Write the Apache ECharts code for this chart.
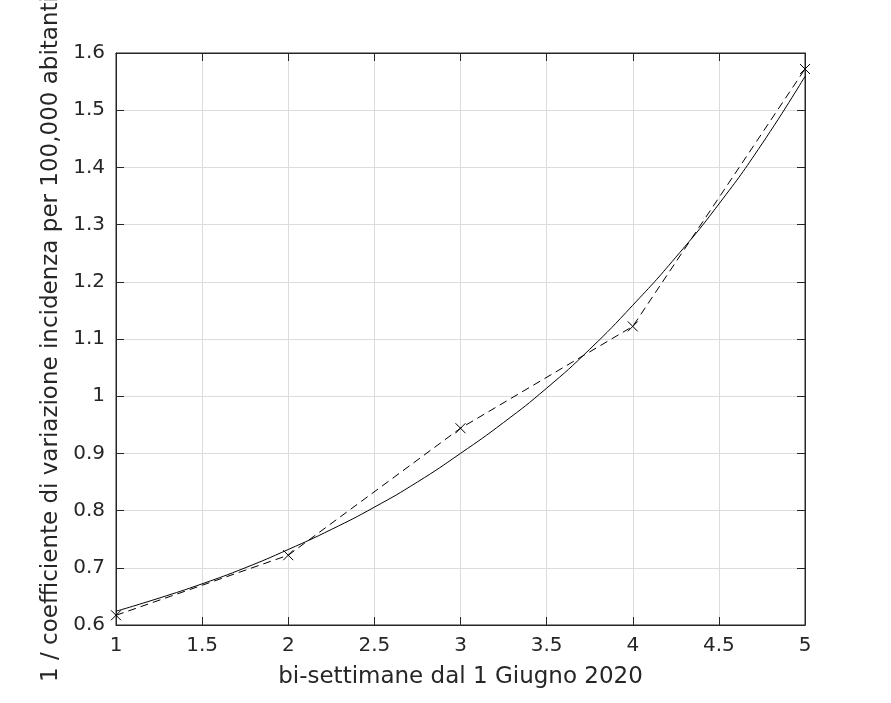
<!DOCTYPE html>
<html><head><meta charset="utf-8">
<script src="https://cdn.jsdelivr.net/npm/echarts@6/dist/echarts.min.js"></script>
<style>html,body{margin:0;padding:0;background:#fff}#c{width:891px;height:703px}</style>
</head><body><div id="c"></div>
<script>
// measured data (dashed with x markers)
const obsX = [1, 2, 3, 4, 5];
const obsY = [0.617, 0.722, 0.944, 1.122, 1.572];
// fitted curve (solid)
const fitX = [1, 1.25, 1.5, 1.75, 2, 2.25, 2.5, 2.75, 3, 3.25, 3.5, 3.75, 4, 4.25, 4.5, 4.75, 5];
const fitY = [0.624, 0.647, 0.672, 0.700, 0.732, 0.767, 0.806, 0.850, 0.900, 0.954, 1.014, 1.082, 1.159, 1.243, 1.336, 1.441, 1.559];
const xTicks = [1, 1.5, 2, 2.5, 3, 3.5, 4, 4.5, 5];
const yTicks = [0.6, 0.7, 0.8, 0.9, 1, 1.1, 1.2, 1.3, 1.4, 1.5, 1.6];
const xLabel = 'bi-settimane dal 1 Giugno 2020';
const yLabel = '1 / coefficiente di variazione incidenza per 100,000 abitanti';

const txt = '#262626';
const font = 'DejaVu Sans';
const chart = echarts.init(document.getElementById('c'));
const xBase = {type:'value', min:xTicks[0], max:xTicks[xTicks.length-1], interval:0.5};
const yBase = {type:'value', min:yTicks[0], max:yTicks[yTicks.length-1], interval:0.1};
chart.setOption({
  animation:false,
  backgroundColor:'#fff',
  grid:{left:116, right:86, top:53, bottom:78, containLabel:false, outerBoundsMode:'none',
    show:true, borderColor:txt, borderWidth:1, backgroundColor:'#fff'},
  xAxis:[
    Object.assign({}, xBase, {position:'bottom',
      name:xLabel, nameLocation:'middle', nameGap:41,
      nameTextStyle:{color:txt, fontSize:23, fontFamily:font},
      axisLine:{show:true, lineStyle:{color:txt}},
      axisTick:{show:true, inside:true, length:8, lineStyle:{color:txt}},
      axisLabel:{color:txt, fontSize:20, fontFamily:font, margin:11, formatter:v=>String(v)},
      splitLine:{show:true, lineStyle:{color:'#dcdcdc', width:1}}}),
    Object.assign({}, xBase, {position:'top',
      axisLine:{show:true, lineStyle:{color:txt}},
      axisTick:{show:true, inside:true, length:8, lineStyle:{color:txt}},
      axisLabel:{show:false}, splitLine:{show:false}})
  ],
  yAxis:[
    Object.assign({}, yBase, {position:'left',
      name:yLabel, nameLocation:'middle', nameGap:52,
      nameTextStyle:{color:txt, fontSize:23, fontFamily:font},
      axisLine:{show:true, lineStyle:{color:txt}},
      axisTick:{show:true, inside:true, length:8, lineStyle:{color:txt}},
      axisLabel:{color:txt, fontSize:20, fontFamily:font, margin:11, formatter:v=>String(Math.round(v*10)/10)},
      splitLine:{show:true, lineStyle:{color:'#dcdcdc', width:1}}}),
    Object.assign({}, yBase, {position:'right',
      axisLine:{show:true, lineStyle:{color:txt}},
      axisTick:{show:true, inside:true, length:8, lineStyle:{color:txt}},
      axisLabel:{show:false}, splitLine:{show:false}})
  ],
  series:[
    {type:'line', xAxisIndex:0, yAxisIndex:0, data:fitX.map((x,i)=>[x,fitY[i]]),
      smooth:true, showSymbol:false, symbol:'none',
      lineStyle:{color:'#000', width:1}},
    {type:'line', xAxisIndex:0, yAxisIndex:0, data:obsX.map((x,i)=>[x,obsY[i]]),
      symbol:'path://M0,0L10,10M10,0L0,10', symbolSize:10, showSymbol:true,
      itemStyle:{color:'rgba(0,0,0,0)', borderColor:'#000', borderWidth:1},
      lineStyle:{color:'#000', width:1, type:[8,5]}}
  ]
});
</script></body></html>
